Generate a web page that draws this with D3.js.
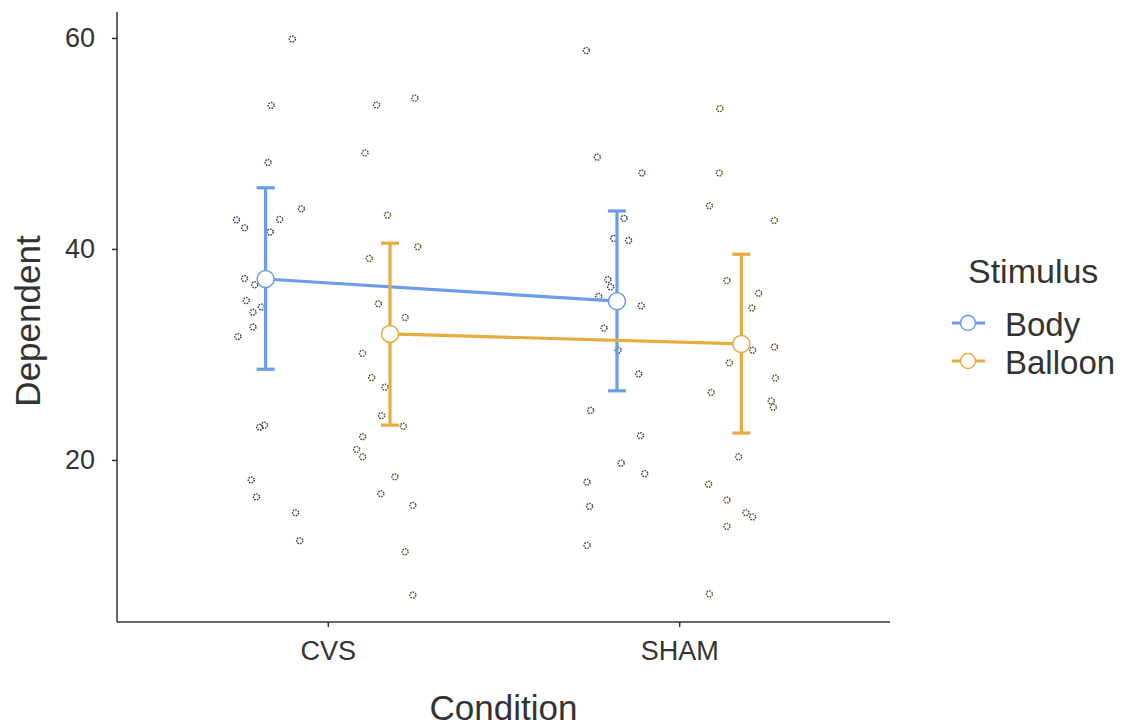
<!DOCTYPE html>
<html>
<head>
<meta charset="utf-8">
<script src="https://cdn.jsdelivr.net/npm/d3@7"></script>
<style>
  body { margin: 0; background: #fff; }
  text { font-family: "Liberation Sans", Arial, sans-serif; fill: #333; }
</style>
</head>
<body>
<div id="chart-area"></div>
<script>
let margin = {top: 12, right: 238, bottom: 105, left: 117};
let width = 1128 - margin.left - margin.right;
let height = 727 - margin.top - margin.bottom;

// conditions and stimulus groups
let conditions = ["CVS", "SHAM"];
let stimuli = ["Body", "Balloon"];
let colors = ["#6B9DE8", "#E6AC40"];
let pointColors = ["#2f3b55", "#5a4626"];
let yTicks = [20, 40, 60];

// means and 95% CI per stimulus, [CVS, SHAM]
let bodyMean = [37.15, 35.05];
let bodyLower = [28.6, 26.55];
let bodyUpper = [45.8, 43.6];
let balloonMean = [31.95, 31.0];
let balloonLower = [23.3, 22.55];
let balloonUpper = [40.55, 39.5];

// raw observations: value and jitter (fraction of category step)
let bodyCvsVal = [59.9, 53.6, 48.2, 43.8, 42.75, 42.0, 42.8, 41.6, 37.2, 36.6, 35.1, 34.0, 34.5, 32.6, 31.7, 23.3, 23.1, 18.1, 16.5, 15.0, 12.35];
let bodyCvsJit = [0.076, 0.016, 0.007, 0.102, -0.083, -0.060, 0.040, 0.013, -0.060, -0.031, -0.055, -0.036, -0.012, -0.036, -0.079, -0.003, -0.017, -0.041, -0.026, 0.085, 0.097];
let balloonCvsVal = [54.3, 53.65, 49.1, 43.2, 40.2, 39.1, 34.8, 33.5, 30.1, 27.8, 26.9, 24.2, 23.2, 22.2, 21.0, 20.3, 18.4, 16.8, 15.7, 11.3, 7.2];
let balloonCvsJit = [0.071, -0.038, -0.071, -0.007, 0.079, -0.059, -0.033, 0.043, -0.078, -0.052, -0.014, -0.024, 0.038, -0.078, -0.095, -0.078, 0.014, -0.026, 0.065, 0.043, 0.065];
let bodyShamVal = [58.8, 48.7, 47.2, 42.9, 41.0, 40.8, 37.1, 36.4, 35.5, 34.6, 32.5, 30.4, 28.15, 24.7, 22.3, 19.7, 18.7, 17.9, 15.6, 11.9];
let bodyShamJit = [-0.087, -0.056, 0.071, 0.020, -0.009, 0.033, -0.026, -0.018, -0.052, 0.069, -0.037, 0.003, 0.062, -0.075, 0.067, 0.012, 0.079, -0.085, -0.078, -0.085];
let balloonShamVal = [53.3, 47.2, 44.1, 42.7, 37.0, 35.8, 34.4, 30.4, 30.7, 29.2, 27.75, 26.4, 25.6, 25.0, 20.3, 17.7, 16.2, 15.0, 14.6, 13.7, 7.3];
let balloonShamJit = [-0.061, -0.063, -0.091, 0.094, -0.041, 0.049, 0.030, 0.032, 0.094, -0.034, 0.097, -0.086, 0.085, 0.091, -0.008, -0.093, -0.041, 0.013, 0.032, -0.041, -0.091];

let dodge = 0.177;

let svg = d3.select("#chart-area").append("svg")
    .attr("width", width + margin.left + margin.right)
    .attr("height", height + margin.top + margin.bottom)
    .append("g")
    .attr("transform", "translate(" + margin.left + "," + margin.top + ")");

let x = d3.scalePoint().domain(conditions).range([0, width]).padding(0.6);
let step = x.step();
let y = d3.scaleLinear().domain([4.64, 62.46]).range([height, 0]);

function xPos(cond, g, jit) {
    let off = (g === 0 ? -dodge : dodge) + (jit || 0);
    return x(cond) + off * step;
}

// axes
let yAxis = d3.axisLeft(y).tickValues(yTicks).tickSize(5).tickPadding(17);
let yg = svg.append("g").call(yAxis);
yg.select(".domain").attr("d", "M0," + height + "V0").attr("stroke", "#333").attr("stroke-width", 1.5);
yg.selectAll(".tick line").attr("stroke", "#333").attr("stroke-width", 1.5);
yg.selectAll(".tick text").style("font-size", "27px").attr("fill", "#333");

let xAxis = d3.axisBottom(x).tickSize(5).tickPadding(14);
let xg = svg.append("g").attr("transform", "translate(0," + height + ")").call(xAxis);
xg.select(".domain").attr("d", "M0,0H" + width).attr("stroke", "#333").attr("stroke-width", 1.5);
xg.selectAll(".tick line").attr("stroke", "#333").attr("stroke-width", 1.5);
xg.selectAll(".tick text").style("font-size", "27px").attr("fill", "#333");

// axis titles
svg.append("text")
    .attr("transform", "translate(" + (-77) + "," + (height / 2 + 4) + ") rotate(-90)")
    .attr("text-anchor", "middle")
    .style("font-size", "35px")
    .text("Dependent");
svg.append("text")
    .attr("x", (x("CVS") + x("SHAM")) / 2)
    .attr("y", height + 98)
    .attr("text-anchor", "middle")
    .style("font-size", "35px")
    .text("Condition");

// raw points
let raw = [
    {g: 0, cond: "CVS", vals: bodyCvsVal, jit: bodyCvsJit},
    {g: 1, cond: "CVS", vals: balloonCvsVal, jit: balloonCvsJit},
    {g: 0, cond: "SHAM", vals: bodyShamVal, jit: bodyShamJit},
    {g: 1, cond: "SHAM", vals: balloonShamVal, jit: balloonShamJit}
];
let pts = [];
raw.forEach(function(r) {
    r.vals.forEach(function(v, i) {
        pts.push({g: r.g, cond: r.cond, value: v, jit: r.jit[i]});
    });
});
svg.selectAll("circle.raw")
    .data(pts)
    .enter().append("circle")
    .attr("class", "raw")
    .attr("cx", d => xPos(d.cond, d.g, d.jit))
    .attr("cy", d => y(d.value))
    .attr("r", 3)
    .attr("fill", "none")
    .attr("stroke", d => pointColors[d.g])
    .attr("stroke-width", 1.4)
    .attr("stroke-dasharray", "1.6,1.1");

// summary per stimulus
let summary = [
    {g: 0, mean: bodyMean, lo: bodyLower, hi: bodyUpper},
    {g: 1, mean: balloonMean, lo: balloonLower, hi: balloonUpper}
];
let line = d3.line()
    .x(d => xPos(d.cond, d.g))
    .y(d => y(d.mean));

summary.forEach(function(s) {
    let rows = conditions.map((c, i) => ({g: s.g, cond: c, mean: s.mean[i], lo: s.lo[i], hi: s.hi[i]}));
    let grp = svg.append("g");
    grp.append("path")
        .attr("d", line(rows))
        .attr("fill", "none")
        .attr("stroke", colors[s.g])
        .attr("stroke-width", 3.2);
    let eb = grp.selectAll("g.eb").data(rows).enter().append("g");
    eb.append("line")
        .attr("x1", d => xPos(d.cond, d.g)).attr("x2", d => xPos(d.cond, d.g))
        .attr("y1", d => y(d.lo)).attr("y2", d => y(d.hi))
        .attr("stroke", colors[s.g]).attr("stroke-width", 3.2);
    ["lo", "hi"].forEach(function(k) {
        eb.append("line")
            .attr("x1", d => xPos(d.cond, d.g) - 9).attr("x2", d => xPos(d.cond, d.g) + 9)
            .attr("y1", d => y(d[k])).attr("y2", d => y(d[k]))
            .attr("stroke", colors[s.g]).attr("stroke-width", 3.2);
    });
    eb.append("circle")
        .attr("cx", d => xPos(d.cond, d.g))
        .attr("cy", d => y(d.mean))
        .attr("r", 8.5)
        .attr("fill", "#fff")
        .attr("stroke", colors[s.g])
        .attr("stroke-width", 1.5);
});

// legend
let legend = svg.append("g").attr("transform", "translate(" + (width + 62) + ",0)");
legend.append("text")
    .attr("x", 16).attr("y", 271)
    .style("font-size", "34px")
    .text("Stimulus");
let items = legend.selectAll("g.item").data(stimuli).enter().append("g")
    .attr("transform", (d, i) => "translate(0," + (311 + i * 38) + ")");
items.append("line")
    .attr("x1", 0).attr("x2", 33)
    .attr("stroke", (d, i) => colors[i]).attr("stroke-width", 3.2);
items.append("circle")
    .attr("cx", 16).attr("r", 7.5)
    .attr("fill", "#fff")
    .attr("stroke", (d, i) => colors[i]).attr("stroke-width", 1.5);
items.append("text")
    .attr("x", 53).attr("y", 13)
    .style("font-size", "33px")
    .text(d => d);
</script>
</body>
</html>
